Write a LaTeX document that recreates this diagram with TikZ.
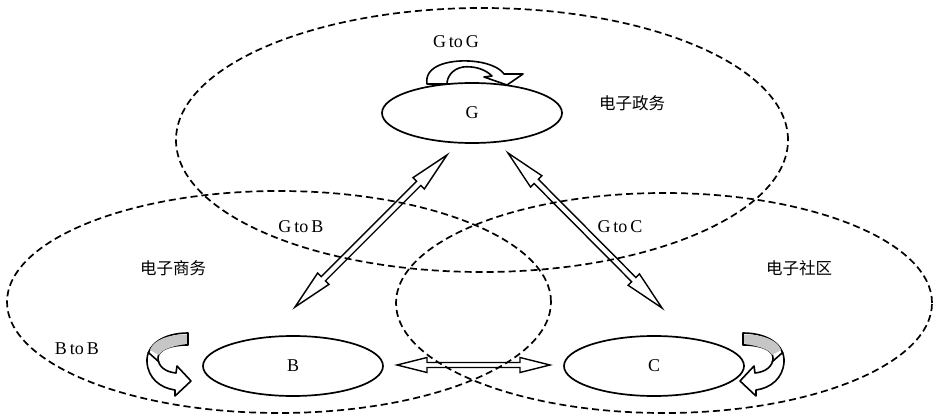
\documentclass[tikz,border=0pt]{standalone}
\usepackage{fontspec}
\setmainfont{Liberation Serif}
\newfontfamily\cjk{Noto Sans CJK SC}
\usetikzlibrary{calc,shapes.geometric}

% hollow two-headed arrow: #1,#2 tips, #3 shaft half width, #4 head half width, #5 head length
\newcommand\hollowarrow[5]{%
  \coordinate (ha) at ($(#1)!#5!(#2)$);
  \coordinate (hb) at ($(#2)!#5!(#1)$);
  \draw[arrowline] (#1)
    -- ($(ha)!#4!90:(#2)$) -- ($(ha)!#3!90:(#2)$)
    -- ($(hb)!#3!-90:(#1)$) -- ($(hb)!#4!-90:(#1)$)
    -- (#2)
    -- ($(hb)!#4!90:(#1)$) -- ($(hb)!#3!90:(#1)$)
    -- ($(ha)!#3!-90:(#2)$) -- ($(ha)!#4!-90:(#2)$) -- cycle;}

\begin{document}
\begin{tikzpicture}[x=1pt,y=-1pt,
  zone/.style={ellipse, draw, dash pattern=on 7pt off 4pt, line width=1.7pt, inner sep=0pt},
  actor/.style={ellipse, draw, line width=1.7pt, fill=white, minimum width=180pt,
                minimum height=60pt, inner sep=0pt, font=\fontsize{18}{20}\selectfont},
  lbl/.style={inner sep=0pt, font=\fontsize{18}{20}\selectfont},
  cnlbl/.style={inner sep=0pt, font=\cjk\fontsize{16.5}{18}\selectfont},
  arrowline/.style={draw, line width=1.4pt, line join=miter},
  ribbon/.style={draw, line width=1.6pt, fill=white, line join=round},
  bendarrow/.pic={
    \path[ribbon] (188,333) .. controls (163,333) and (146,345) .. (147,362)
      .. controls (148,378) and (160,388) .. (175,390) -- (175,396) -- (191,381)
      -- (177,366) -- (176,373) .. controls (165,372) and (158,366) .. (158,358)
      .. controls (158,350) and (170,345) .. (188,345) -- cycle;
    \fill[gray!45] (187,334.5) .. controls (166,334.5) and (153,341) .. (150,350)
      -- (159,355) .. controls (162,349) and (172,346.5) .. (187,343.5) -- cycle;
    \draw[line width=1.6pt] (188,333) -- (188,345);
    \draw[line width=1.6pt] (148,352) .. controls (152,356) and (156,359) .. (159,362);
  }]
\useasboundingbox (0,0) rectangle (935,417);

% sectors
\node[zone, minimum width=612pt, minimum height=264pt] (gov) at (482,140) {};
\node[zone, minimum width=544pt, minimum height=222pt] (biz) at (279,302) {};
\node[zone, minimum width=536pt, minimum height=220pt] (com) at (664,303) {};

% actors
\node[actor] (G) at (472,113) {G};
\node[actor] (B) at (293,366) {B};
\node[actor] (C) at (654,366) {C};

% labels
\node[lbl] (lgg) at (456,42) {G\,to\,G};
\node[lbl] (lgb) at (301,227) {G\,to\,B};
\node[lbl] (lgc) at (620,227) {G\,to\,C};
\node[lbl] (lbb) at (77,349) {B\,to\,B};
\node[cnlbl] (lgov) at (632,103) {电子政务};
\node[cnlbl] (lbiz) at (173,268) {电子商务};
\node[cnlbl] (lcom) at (799,268) {电子社区};

% two-way links
\coordinate (gb1) at (447,155);
\coordinate (gb2) at (295,307);
\coordinate (gc1) at (508,153);
\coordinate (gc2) at (662,308);
\coordinate (bc1) at (397,365);
\coordinate (bc2) at (550,365);
\hollowarrow{gb1}{gb2}{3pt}{8pt}{40pt}
\hollowarrow{gc1}{gc2}{3pt}{8pt}{40pt}
\hollowarrow{bc1}{bc2}{2.5pt}{7.5pt}{30pt}

% self loop above G
\path[ribbon] (427,84) .. controls (424,66) and (448,60) .. (469,61)
  .. controls (488,62) and (500,68) .. (504,74) -- (523,74) -- (507,85) -- (484,77)
  -- (492,76) .. controls (484,68) and (472,66) .. (463,67)
  .. controls (452,69) and (447,77) .. (447,84) -- cycle;

% self loops beside B and C
\pic at (0,0) {bendarrow};
\pic[xscale=-1] at (931,0) {bendarrow};
\end{tikzpicture}
\end{document}
